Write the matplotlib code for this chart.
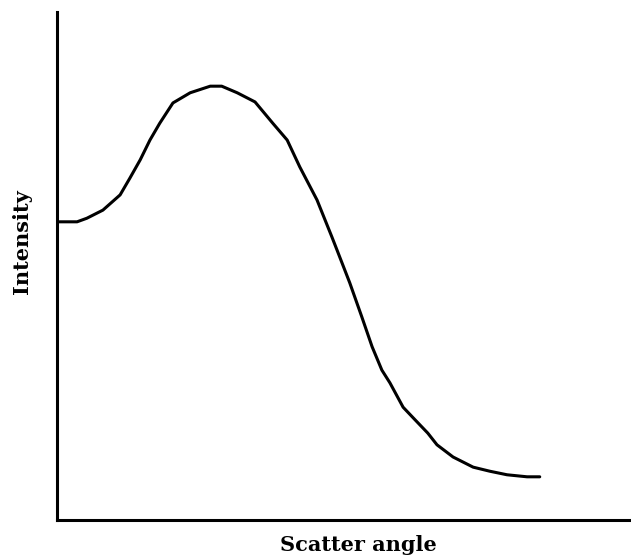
import numpy as np
import matplotlib.pyplot as plt

# intensity profile vs scatter angle (arbitrary units)
angle = [0.0, 0.35, 0.52, 0.80, 1.10, 1.27, 1.45, 1.62, 1.79, 2.02, 2.32, 2.67,
         2.87, 3.14, 3.45, 3.76, 4.01, 4.23, 4.53, 4.79, 4.88, 5.10, 5.31, 5.49,
         5.66, 5.80, 6.03, 6.24, 6.46, 6.62, 6.90, 7.25, 7.54, 7.84, 8.19, 8.41]
intensity = [5.87, 5.87, 5.94, 6.10, 6.40, 6.73, 7.09, 7.48, 7.81, 8.21, 8.41, 8.54,
             8.54, 8.41, 8.23, 7.81, 7.48, 6.95, 6.30, 5.57, 5.31, 4.67, 4.00, 3.41,
             2.95, 2.70, 2.22, 1.97, 1.71, 1.48, 1.24, 1.04, 0.96, 0.89, 0.85, 0.85]

fig = plt.figure(figsize=(6.31, 5.59), dpi=100)
ax = fig.add_axes([0.0903, 0.0698, 0.9097, 0.9087])

ax.plot(angle, intensity, color='black', linewidth=2.2,
        solid_joinstyle='round', solid_capstyle='round')

ax.set_xlim(0, 10)
ax.set_ylim(0, 10)
ax.set_xticks([])
ax.set_yticks([])
for side in ['top', 'right']:
    ax.spines[side].set_visible(False)
for side in ['left', 'bottom']:
    ax.spines[side].set_linewidth(2.2)

fig.text(0.568, 0.025, 'Scatter angle', ha='center', va='center',
         family='DejaVu Serif', weight='bold', fontsize=15)
fig.text(0.035, 0.567, 'Intensity', ha='center', va='center', rotation=90,
         family='DejaVu Serif', weight='bold', fontsize=15)

fig.savefig('out.png', dpi=100)
